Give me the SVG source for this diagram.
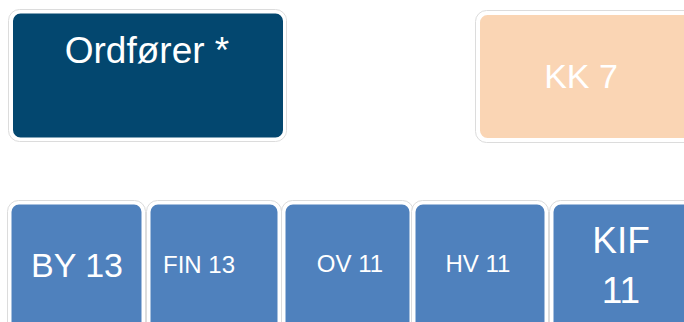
<svg xmlns="http://www.w3.org/2000/svg" width="684" height="322" viewBox="0 0 684 322">
<style>
.halo{fill:none;stroke:#dcdcdc;stroke-width:1}
.box{stroke:#ffffff;stroke-width:3}
.dark{fill:#03476F}
.peach{fill:#FAD5B4}
.blue{fill:#4F81BD}
text{font-family:"Liberation Sans",Arial,sans-serif;fill:#ffffff;text-anchor:middle}
</style>
<rect width="684" height="322" fill="#ffffff"/>
<g id="ordforer">
<rect class="halo" x="8.5" y="9.5" width="278" height="132" rx="11"/>
<rect class="box dark" x="11.5" y="12" width="273" height="127" rx="9"/>
<text x="147" y="63" font-size="37">Ordfører *</text>
</g>
<g id="kk7">
<rect class="halo" x="475.5" y="10.5" width="230" height="132" rx="11"/>
<rect class="box peach" x="478.5" y="13.5" width="225" height="126" rx="9"/>
<text x="581" y="88" font-size="34">KK 7</text>
</g>
<g id="by13">
<rect class="halo" x="7.5" y="200.5" width="138" height="140" rx="11"/>
<rect class="box blue" x="10" y="203" width="133" height="135" rx="9"/>
<text x="77" y="277" font-size="34">BY 13</text>
</g>
<g id="fin13">
<rect class="halo" x="146.5" y="200.5" width="135" height="140" rx="11"/>
<rect class="box blue" x="149" y="203" width="130" height="135" rx="9"/>
<text x="199" y="273" font-size="24">FIN 13</text>
</g>
<g id="ov11">
<rect class="halo" x="281.5" y="200.5" width="132" height="140" rx="11"/>
<rect class="box blue" x="284" y="203" width="127" height="135" rx="9"/>
<text x="350" y="272" font-size="24">OV 11</text>
</g>
<g id="hv11">
<rect class="halo" x="411.5" y="200.5" width="137" height="140" rx="11"/>
<rect class="box blue" x="414" y="203" width="132" height="135" rx="9"/>
<text x="478" y="272" font-size="24">HV 11</text>
</g>
<g id="kif11">
<rect class="halo" x="549.5" y="200.5" width="150" height="140" rx="11"/>
<rect class="box blue" x="552" y="203" width="145" height="135" rx="9"/>
<text x="621" y="253" font-size="37">KIF</text>
<text x="621" y="303" font-size="37">11</text>
</g>
<g id="connectors"></g>
</svg>
